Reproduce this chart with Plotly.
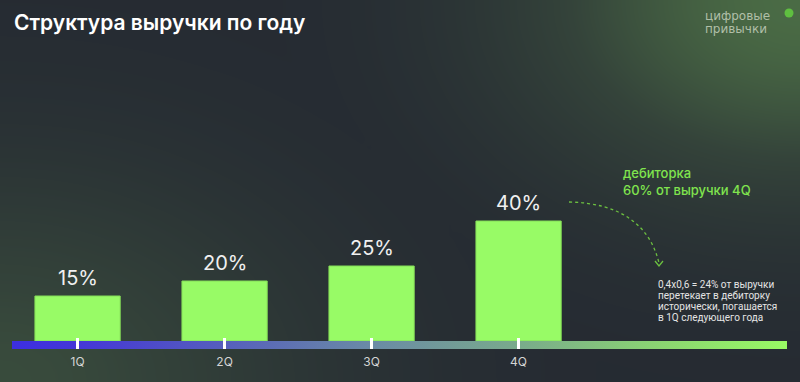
import numpy as np
import plotly.graph_objects as go

# ---- data ----
quarters = ["1Q", "2Q", "3Q", "4Q"]
shares = [15, 20, 25, 40]
share_labels = ["15%", "20%", "25%", "40%"]
title_text = "Структура выручки по году"
receivable_text = "дебиторка<br>60% от выручки 4Q"
note_lines = ["0,4x0,6 = 24% от выручки",
              "перетекает в дебиторку",
              "исторически, погашается",
              "в 1Q следующего года"]
logo_lines = ["цифровые", "привычки"]

W, H = 800, 382
BG = "#252a32"
BAR = "#98fb66"
GREEN_TXT = "#80e44e"

def px(x):
    return x / W

def py(y):
    return 1 - y / H

# ---- background glow (style only) ----
gx = np.linspace(0, W, 81)
gy = np.linspace(0, H, 40)
XX, YY = np.meshgrid(gx, gy)
tr = np.exp(-(((W - XX) / 290.0) ** 2 + (YY / 200.0) ** 2) * 1.1)
bl = 0.6 * np.exp(-((XX / 330.0) ** 2 + ((H - YY) / 230.0) ** 2) * 1.1)
Z = np.maximum(tr, bl)

fig = go.Figure()
fig.add_trace(go.Heatmap(
    x=gx, y=gy, z=Z, zmin=0, zmax=1, zsmooth="best",
    colorscale=[[0, BG], [0.5, "#34433a"], [1, "#4a6b45"]],
    showscale=False, hoverinfo="skip", xaxis="x", yaxis="y"))

# ---- axis gradient strip ----
ymin = -8 / 3.0
xr = [-0.446, 4.826]
fig.add_trace(go.Scatter(
    x=[xr[0], xr[1], xr[1], xr[0], xr[0]],
    y=[ymin, ymin, 0, 0, ymin],
    mode="lines", line=dict(width=0), fill="toself",
    fillgradient=dict(type="horizontal", colorscale=[
        [0.0, "#3c2ee0"], [0.09, "#4537d6"], [0.28, "#5660bc"],
        [0.46, "#6a8aa6"], [0.65, "#79aa8c"], [0.85, "#8cd870"],
        [1.0, "#98fa64"]]),
    hoverinfo="skip", showlegend=False, xaxis="x2", yaxis="y2"))

# ---- bars ----
fig.add_trace(go.Bar(
    x=list(range(len(quarters))), y=shares, width=0.58,
    marker=dict(color=BAR, line=dict(color="#84dc58", width=1)),
    hoverinfo="skip", showlegend=False, xaxis="x2", yaxis="y2"))

annotations = []
for i, (v, lab) in enumerate(zip(shares, share_labels)):
    annotations.append(dict(
        x=i, y=v, xref="x2", yref="y2", text=lab, showarrow=False,
        yanchor="bottom", yshift=4,
        font=dict(family="Inter", size=20, color="#f0f0f0")))

annotations.append(dict(
    x=px(12), y=py(23), xref="paper", yref="paper", text=title_text,
    showarrow=False, xanchor="left", yanchor="middle",
    font=dict(family="Inter", size=21, color="#ffffff", weight=600)))

annotations.append(dict(
    x=px(621), y=py(181), xref="paper", yref="paper", text=receivable_text,
    showarrow=False, xanchor="left", yanchor="middle", align="left",
    font=dict(family="Inter", size=13, color=GREEN_TXT, weight=500)))

for k, line in enumerate(note_lines):
    annotations.append(dict(
        x=px(657), y=py(284 + k * 11.2), xref="paper", yref="paper", text=line,
        showarrow=False, xanchor="left", yanchor="middle", borderpad=0,
        font=dict(family="Roboto", size=10, color="#e4e4e4")))

for k, line in enumerate(logo_lines):
    annotations.append(dict(
        x=px(704), y=py(16.5 + k * 13), xref="paper", yref="paper", text=line,
        showarrow=False, xanchor="left", yanchor="middle", borderpad=0,
        font=dict(family="DejaVu Sans", size=12, color="#b0bfa8")))

shapes = [
    dict(type="path", xref="paper", yref="paper",
         path="M {} {} C {} {} {} {} {} {}".format(
             px(569), py(202), px(620), py(203), px(650), py(225), px(659), py(263)),
         line=dict(color="#6cc040", width=1.3, dash="dot")),
    dict(type="path", xref="paper", yref="paper",
         path="M {} {} L {} {} L {} {}".format(
             px(655), py(261), px(659), py(266), px(663), py(261)),
         line=dict(color="#6cc040", width=1.3)),
    dict(type="circle", xref="paper", yref="paper",
         x0=px(784.5), x1=px(793.5), y0=py(8.5), y1=py(17.5),
         fillcolor="#5fbf40", line=dict(width=0)),
]

y_top = 341 - 130
fig.update_layout(
    width=W, height=H,
    margin=dict(l=0, r=0, t=0, b=0),
    paper_bgcolor=BG, plot_bgcolor="rgba(0,0,0,0)",
    showlegend=False,
    xaxis=dict(domain=[0, 1], range=[0, W], visible=False, fixedrange=True),
    yaxis=dict(domain=[0, 1], range=[H, 0], visible=False, fixedrange=True),
    xaxis2=dict(domain=[px(12), px(787)], range=xr, anchor="y2",
                tickmode="array", tickvals=list(range(len(quarters))),
                ticktext=quarters, ticks="inside", ticklen=11, tickwidth=3,
                tickcolor="#ffffff", showgrid=False, zeroline=False,
                showline=False, tickfont=dict(family="Inter", size=12, color="#d4d4d4"),
                ticklabelstandoff=4, fixedrange=True),
    yaxis2=dict(domain=[py(349), py(130)], range=[ymin, y_top / 3.0], anchor="x2",
                visible=False, showgrid=False, zeroline=False, fixedrange=True),
    annotations=annotations,
    shapes=shapes,
)

fig.write_html("out.html", config={"displayModeBar": False},
               post_script="document.body.style.margin='0';document.body.style.background='#252a32';")
